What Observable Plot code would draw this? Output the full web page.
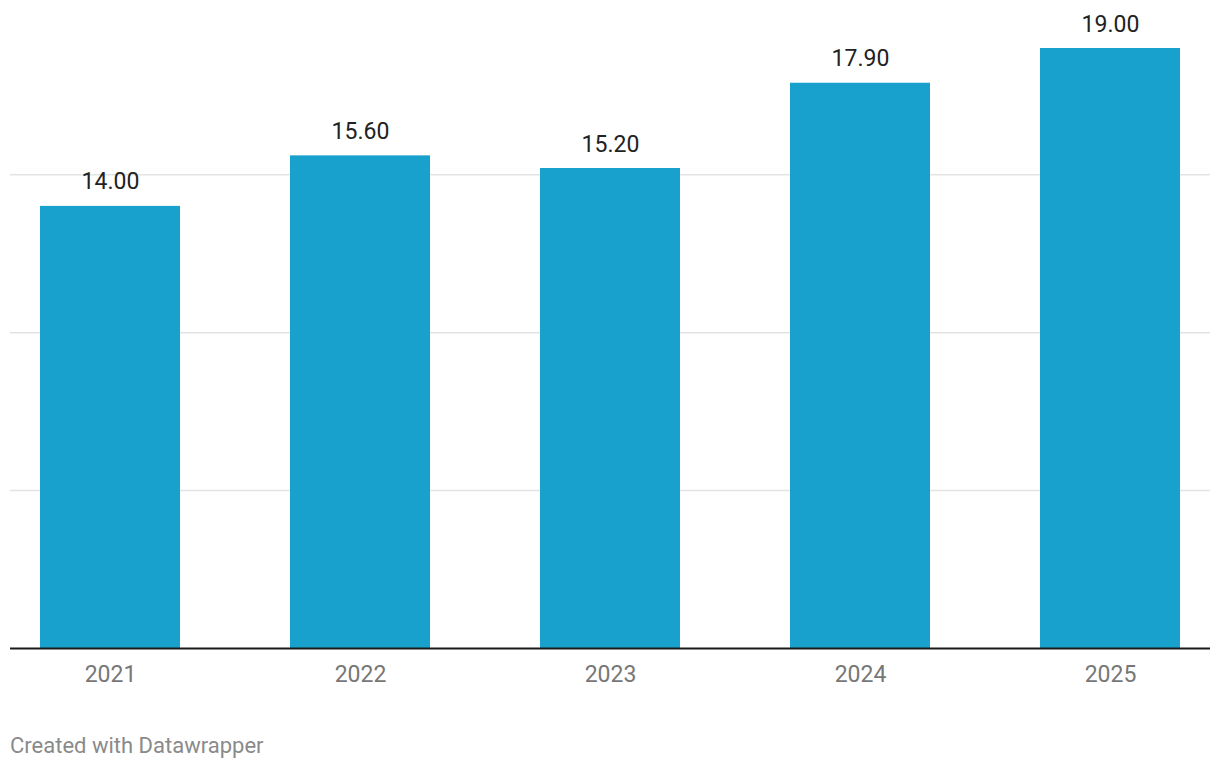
<!DOCTYPE html>
<html>
<head>
<meta charset="utf-8">
<script src="https://cdn.jsdelivr.net/npm/d3@7"></script>
<script src="https://cdn.jsdelivr.net/npm/@observablehq/plot@0.6"></script>
<style>
  html, body { margin: 0; padding: 0; background: #fff; }
  #chart { width: 1220px; }
  .caption { font-family: Roboto, sans-serif; font-size: 22px; line-height: 26px; color: #8a8a8a; margin: 33px 0 0 10px; }
</style>
</head>
<body>
<div id="chart"></div>
<div class="caption">Created with Datawrapper</div>
<script>
const years = ["2021", "2022", "2023", "2024", "2025"];
const values = [14.00, 15.60, 15.20, 17.90, 19.00];
const gridTicks = [5, 10, 15];

const data = years.map((year, i) => ({year, value: values[i]}));

const chart = Plot.plot({
  width: 1220,
  height: 700,
  marginLeft: 10,
  marginRight: 10,
  marginTop: 48,
  marginBottom: 52,
  style: {fontFamily: "Roboto, sans-serif", fontSize: "23px", background: "#fff"},
  x: {domain: years, paddingInner: 0.44, paddingOuter: 0.12, label: null},
  y: {domain: [0, 19], axis: null},
  marks: [
    Plot.ruleY(gridTicks, {stroke: "#e3e3e3", strokeWidth: 1.5}),
    Plot.barY(data, {x: "year", y: "value", fill: "#18a1cd"}),
    Plot.text(data, {x: "year", y: "value", text: d => d.value.toFixed(2), lineAnchor: "bottom", dy: -17, fill: "#222", fontSize: 23}),
    Plot.ruleY([0], {stroke: "#1a1a1a", strokeWidth: 2}),
    Plot.axisX({tickSize: 0, tickPadding: 17, fontSize: 23, color: "#777", label: null})
  ]
});
document.getElementById("chart").appendChild(chart);
</script>
</body>
</html>
